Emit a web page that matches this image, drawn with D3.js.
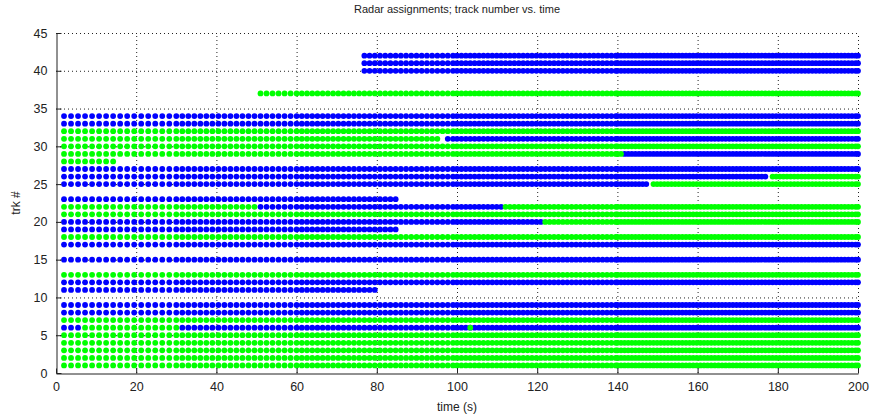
<!DOCTYPE html>
<html>
<head>
<meta charset="utf-8">
<script src="https://cdn.jsdelivr.net/npm/d3@7"></script>
<style>
  body { margin: 0; background: #fff; }
  svg { display: block; font-family: "Liberation Sans", Arial, sans-serif; }
  .grid line { stroke: #222; stroke-width: 1; stroke-dasharray: 1,3; }
</style>
</head>
<body>
<div id="chart"></div>
<script>
// track segments: [track #, start (s), end (s)]
const greenSegs = [
  [1, 2, 200], [2, 2, 200], [3, 2, 200], [4, 2, 200], [5, 2, 200],
  [6, 6.5, 31], [6, 102.5, 103.6], [7, 2, 200], [13, 2, 200], [18, 2, 200],
  [20, 121.5, 200], [21, 2, 200], [22, 2, 49.5], [22, 112, 200],
  [25, 148.5, 200], [26, 178, 200], [28, 2, 15.2], [29, 2, 141],
  [30, 2, 200], [31, 2, 96], [32, 2, 200], [37, 50, 200]
];
const blueSegs = [
  [6, 2, 5.5], [6, 31.5, 200], [8, 2, 200], [9, 2, 200],
  [11, 2, 80.3], [12, 2, 200], [15, 2, 200], [17, 2, 200], [19, 2, 84.8],
  [20, 2, 121], [22, 50, 111.5], [23, 2, 85.8], [25, 2, 148], [26, 2, 177.5],
  [27, 2, 200], [29, 141.5, 200], [31, 96.5, 200], [33, 2, 200], [34, 2, 200],
  [40, 76.5, 200], [41, 76.5, 200], [42, 76.5, 200]
];
// radar update schedule: [from (s), to (s), period (s)]
const scanPeriods = [
  [2, 30, 1.75], [30, 60, 1.5], [60, 100, 1.3], [100, 140, 1.1], [140, 200, 0.9]
];

const xTicks = [0, 20, 40, 60, 80, 100, 120, 140, 160, 180, 200];
const yTicks = [0, 5, 10, 15, 20, 25, 30, 35, 40, 45];

const width = 875, height = 420;
const svg = d3.select("#chart").append("svg")
  .attr("width", width).attr("height", height);

const x = d3.scaleLinear().domain([0, 200]).range([56, 858]);
const y = d3.scaleLinear().domain([0, 45]).range([373, 33]);

// grid (dotted, MATLAB style)
const grid = svg.append("g").attr("class", "grid");
grid.selectAll("line.v").data(xTicks.slice(1)).enter().append("line")
  .attr("x1", d => x(d) + 0.5).attr("x2", d => x(d) + 0.5)
  .attr("y1", y(0)).attr("y2", y(45));
grid.selectAll("line.h").data(yTicks.slice(1)).enter().append("line")
  .attr("x1", x(0)).attr("x2", x(200))
  .attr("y1", d => y(d) + 0.5).attr("y2", d => y(d) + 0.5);

// sample times
const scanTimes = [];
scanPeriods.forEach(([a, b, p]) => {
  for (let t = a; t < b - 1e-9; t += p) scanTimes.push(t);
});
scanTimes.push(200);

function points(segs) {
  const out = [];
  segs.forEach(([trk, t0, t1]) => {
    scanTimes.forEach(t => { if (t >= t0 - 1e-6 && t <= t1 + 1e-6) out.push([t, trk]); });
  });
  return out;
}

const dots = svg.append("g");
dots.selectAll("circle.b").data(points(blueSegs)).enter().append("circle")
  .attr("cx", d => x(d[0])).attr("cy", d => y(d[1]))
  .attr("r", 2.9).attr("fill", "#0000ff");
dots.selectAll("circle.g").data(points(greenSegs)).enter().append("circle")
  .attr("cx", d => x(d[0])).attr("cy", d => y(d[1]))
  .attr("r", 2.9).attr("fill", "#00ff00");

// axes
const xAxis = d3.axisBottom(x).tickValues(xTicks).tickSizeInner(-5).tickSizeOuter(0).tickPadding(9);
const yAxis = d3.axisLeft(y).tickValues(yTicks).tickSizeInner(-5).tickSizeOuter(0).tickPadding(9);

const gx = svg.append("g").attr("transform", `translate(0,${y(0) + 0.5})`).call(xAxis);
const gy = svg.append("g").attr("transform", `translate(${x(0) + 0.5},0)`).call(yAxis);
[gx, gy].forEach(g => {
  g.select(".domain").attr("stroke", "#222");
  g.selectAll(".tick line").attr("stroke", "#222");
  g.selectAll("text").attr("font-size", 12.5).attr("fill", "#222")
    .attr("font-family", "'Liberation Sans', Arial, sans-serif");
});

svg.append("text").attr("x", x(100)).attr("y", 13)
  .attr("text-anchor", "middle").attr("font-size", 11).attr("fill", "#222")
  .text("Radar assignments; track number vs. time");
svg.append("text").attr("x", x(100)).attr("y", 411)
  .attr("text-anchor", "middle").attr("font-size", 12).attr("fill", "#222")
  .text("time (s)");
svg.append("text").attr("transform", `translate(20,${y(22.5)}) rotate(-90)`)
  .attr("text-anchor", "middle").attr("font-size", 12).attr("fill", "#222")
  .text("trk #");
</script>
</body>
</html>
